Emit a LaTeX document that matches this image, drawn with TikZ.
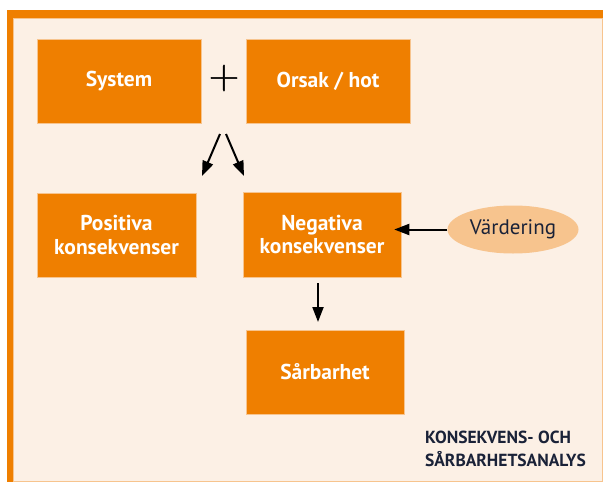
\documentclass[tikz,border=0pt]{standalone}
\usepackage{fontspec}
\setmainfont{PT Sans}
\newfontfamily\plusfont[FakeBold=1.2]{Latin Modern Roman}
\usetikzlibrary{arrows.meta,shapes.geometric}
\definecolor{orng}{HTML}{EF7F00}
\definecolor{cream}{HTML}{FCF0E5}
\definecolor{lightor}{HTML}{F7C48E}
\definecolor{navy}{HTML}{1A2238}
\tikzset{
  box/.style={fill=orng, draw=lightor, line width=0.5pt, text=white, font=\bfseries\fontsize{21.5}{23.5}\selectfont, align=center, inner sep=0pt},
  arr/.style={-{Triangle[length=15pt,width=11pt]}, line width=2pt, black},
}
\begin{document}
\begin{tikzpicture}[x=1pt,y=-1pt]
\useasboundingbox (0,0) rectangle (603,482);
\fill[white] (0,0) rectangle (603,482);
\fill[lightor] (7,10) rectangle (603,482);
\fill[cream] (14,19) rectangle (602,481);
\fill[orng] (7,10) rectangle (603,18);
\fill[orng] (7,10) rectangle (13,482);

\node[box, minimum width=164pt, minimum height=84pt] (sys) at (119,81.5) {System};
\node[box, minimum width=164pt, minimum height=84pt] (ors) at (328,81.5) {Orsak / hot};
\node[font=\plusfont\fontsize{42}{42}\selectfont, inner sep=0pt] (plus) at (224,78) {+};
\node[box, minimum width=159pt, minimum height=84pt] (pos) at (116.5,235) {Positiva\\konsekvenser};
\node[box, minimum width=158pt, minimum height=85pt] (neg) at (322,234.5) {Negativa\\konsekvenser};
\node[box, minimum width=158pt, minimum height=84pt] (sar) at (325,372) {Sårbarhet};
\node[ellipse, fill=lightor, minimum width=131pt, minimum height=48pt, inner sep=0pt, text=navy, font=\fontsize{21}{22}\selectfont] (var) at (513,229.5) {Värdering};

\coordinate (a1) at (220,134);
\coordinate (a2) at (226,134);
\coordinate (b1) at (202,176);
\coordinate (b2) at (244,176);
\draw[arr] (a1) -- (b1);
\draw[arr] (a2) -- (b2);
\draw[arr] (var.west) -- ([xshift=-7pt]neg.east |- var.west);
\coordinate (c1) at (318,283);
\coordinate (c2) at (318,322);
\draw[arr] (c1) -- (c2);

\node[anchor=north east, align=left, text=navy, font=\bfseries\fontsize{17.5}{23}\selectfont, inner sep=0pt] (title) at (586,431) {KONSEKVENS- OCH\\SÅRBARHETSANALYS};
\end{tikzpicture}
\end{document}
